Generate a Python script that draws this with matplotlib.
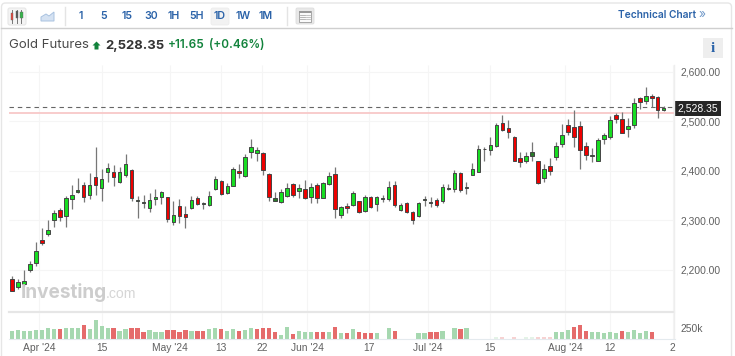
import matplotlib
matplotlib.use('Agg')
import matplotlib.pyplot as plt
import numpy as np
from matplotlib.patches import Rectangle, FancyBboxPatch, Polygon

# ohlc, (high, body top, body bottom, low)
highs = [2186, 2181, 2200, 2218, 2256, 2285, 2300, 2321, 2324, 2349, 2371, 2385, 2378, 2395, 2447, 2403,
         2415, 2411, 2407, 2434, 2403, 2348, 2350, 2354, 2362, 2358, 2346, 2339, 2342, 2329, 2348, 2348,
         2337, 2359, 2389, 2381, 2375, 2407, 2414, 2433, 2464, 2447, 2438, 2396, 2357, 2364, 2375, 2375,
         2373, 2381, 2375, 2376, 2377, 2397, 2407, 2329, 2335, 2358, 2339, 2350, 2349, 2348, 2350, 2380,
         2380, 2334, 2336, 2319, 2337, 2349, 2347, 2344, 2373, 2373, 2401, 2398, 2378, 2416, 2452, 2447,
         2468, 2496, 2512, 2502, 2470, 2437, 2437, 2458, 2420, 2413, 2425, 2459, 2495, 2504, 2522, 2500,
         2458, 2445, 2466, 2476, 2511, 2516, 2518, 2506, 2547, 2550, 2569, 2555, 2551, 2531]
tops = [2181, 2175, 2177, 2212, 2237, 2259, 2280, 2314, 2321, 2344, 2350, 2361, 2371, 2371, 2387, 2383,
        2406, 2398, 2398, 2413, 2402, 2341, 2337, 2341, 2346, 2356, 2346, 2310, 2329, 2312, 2341, 2344,
        2334, 2349, 2384, 2379, 2369, 2404, 2400, 2428, 2448, 2441, 2435, 2393, 2344, 2356, 2366, 2373,
        2366, 2364, 2368, 2371, 2375, 2389, 2394, 2326, 2329, 2354, 2338, 2347, 2347, 2346, 2344, 2367,
        2372, 2331, 2334, 2317, 2335, 2342, 2337, 2340, 2367, 2366, 2396, 2395, 2368, 2403, 2444, 2444,
        2452, 2492, 2496, 2487, 2469, 2426, 2429, 2438, 2420, 2403, 2410, 2451, 2472, 2493, 2489, 2490,
        2451, 2431, 2463, 2473, 2503, 2512, 2504, 2491, 2537, 2548, 2551, 2552, 2549, 2526]
bottoms = [2157, 2164, 2171, 2199, 2214, 2254, 2271, 2300, 2306, 2308, 2342, 2356, 2347, 2350, 2372, 2366,
           2397, 2387, 2377, 2392, 2345, 2339, 2334, 2325, 2342, 2346, 2302, 2297, 2308, 2306, 2325, 2333,
           2332, 2330, 2362, 2352, 2354, 2370, 2396, 2390, 2437, 2436, 2402, 2347, 2339, 2337, 2348, 2350,
           2358, 2344, 2346, 2345, 2345, 2373, 2323, 2310, 2325, 2331, 2317, 2318, 2327, 2332, 2342, 2342,
           2330, 2321, 2317, 2300, 2308, 2340, 2335, 2331, 2338, 2364, 2362, 2361, 2366, 2392, 2398, 2443,
           2442, 2450, 2483, 2479, 2420, 2418, 2420, 2430, 2375, 2385, 2400, 2427, 2454, 2479, 2468, 2442,
           2431, 2430, 2420, 2465, 2469, 2505, 2477, 2484, 2493, 2540, 2541, 2547, 2522, 2522]
lows = [2156, 2160, 2167, 2194, 2207, 2249, 2267, 2286, 2298, 2286, 2322, 2354, 2336, 2342, 2351, 2339,
        2378, 2370, 2375, 2387, 2338, 2305, 2325, 2317, 2331, 2333, 2296, 2291, 2294, 2284, 2322, 2330,
        2322, 2329, 2360, 2350, 2352, 2369, 2386, 2388, 2425, 2420, 2392, 2339, 2338, 2334, 2346, 2347,
        2344, 2342, 2335, 2334, 2344, 2371, 2305, 2304, 2315, 2329, 2314, 2316, 2325, 2319, 2337, 2339,
        2327, 2318, 2315, 2292, 2306, 2329, 2327, 2326, 2335, 2360, 2356, 2357, 2353, 2391, 2397, 2420,
        2431, 2449, 2481, 2467, 2419, 2408, 2415, 2420, 2374, 2378, 2391, 2422, 2449, 2472, 2449, 2403,
        2422, 2418, 2420, 2455, 2464, 2497, 2476, 2469, 2487, 2524, 2535, 2528, 2506, 2520]
red_candles = [0, 5, 8, 12, 14, 17, 20, 26, 28, 29, 31, 35, 38, 42, 43, 47, 49, 51, 54, 56, 58, 60,
               64, 66, 67, 71, 75, 82, 83, 84, 85, 88, 90, 93, 94, 95, 96, 101, 102, 105, 107, 108]
dark_candles = [11, 22, 32, 44, 70, 73, 87]

volumes = [183, 200, 183, 183, 217, 200, 250, 242, 225, 258, 258, 258, 325, 242, 450, 308,
           267, 267, 192, 242, 250, 250, 158, 200, 150, 150, 200, 200, 158, 200, 183, 192,
           192, 225, 258, 233, 183, 225, 183, 200, 258, 233, 250, 258, 158, 92, 283, 100,
           175, 158, 158, 158, 158, 158, 283, 142, 142, 225, 158, 125, 125, 142, 0, 250,
           192, 0, 0, 0, 125, 125, 150, 150, 183, 0, 267, 233, 250, 0, 0, 0,
           0, 25, 25, 0, 25, 0, 25, 25, 25, 25, 25, 150, 150, 200, 292, 333,
           183, 158, 158, 142, 158, 142, 183, 158, 200, 142, 183, 150, 0, 0]
red_volumes = [8, 12, 17, 20, 21, 22, 26, 27, 28, 29, 31, 32, 35, 38, 41, 42, 43, 44, 47, 51, 52, 54,
               56, 58, 59, 60, 64, 70, 71, 75, 82, 84, 88, 89, 90, 94, 95, 96, 102, 107]

tick_pos = [4.6, 15.05, 26.4, 35, 41.8, 49.4, 59.7, 69.5, 79.9, 92.5, 100, 110.5]
tick_labels = ["Apr '24", '15', "May '24", '13', '22', "Jun '24", '17', "Jul '24", '15', "Aug '24", '12', '2']
price_ticks = [2200, 2300, 2400, 2500, 2600]
last_price = 2528.35
prev_close = 2516.7

W, H = 735, 356
FONT = 'Inter'
AXIS_FONT = 'Liberation Sans'
GREEN = '#18dd22'
RED = '#ee0000'
VGREEN = '#a6d8b0'
VRED = '#e56b6b'
BLUE = '#2a62a8'
TXT = '#606060'


def axes_px(fig, x0, y0, x1, y1, **kw):
    return fig.add_axes([x0 / W, 1 - y1 / H, (x1 - x0) / W, (y1 - y0) / H], **kw)


def px(size):
    return size * 0.72


fig = plt.figure(figsize=(W / 100, H / 100), dpi=100)
plt.rcParams['font.family'] = [FONT, 'DejaVu Sans']

ax = axes_px(fig, 9, 65, 674.5, 312)
ax.set_xlim(-0.5, 110.8)
ax.set_ylim(2114, 2614)
idx = np.arange(len(highs))
ax.vlines(tick_pos, 2114, 2614, color='#f5f5f5', lw=0.8, zorder=0)
ax.hlines(price_ticks, -0.5, 110.8, color='#f5f5f5', lw=0.8, zorder=0)
ax.axhline(prev_close, color='#f8c8c8', lw=1.3, zorder=1)
ax.axhline(last_price, color='#666666', lw=0.8, dashes=(4, 3.5), zorder=1)

ax.vlines(idx, lows, highs, color='#777777', lw=0.9, zorder=2)
colors = ['#2a7a2a' if i in dark_candles else RED if i in red_candles else GREEN for i in idx]
ax.bar(idx, np.array(tops) - np.array(bottoms), width=0.58, bottom=bottoms, color=colors,
       edgecolor='#444444', lw=0.7, zorder=3)
for s in ax.spines.values():
    s.set_visible(False)
ax.set_xticks([])
ax.yaxis.tick_right()
ax.set_yticks(price_ticks)
ax.set_yticklabels(['{:,.2f}'.format(p) for p in price_ticks], fontsize=px(10.2), color=TXT, family=AXIS_FONT)
ax.tick_params(axis='y', length=0, pad=4)
ax.patch.set_alpha(0)

vol = axes_px(fig, 9, 313, 674.5, 338.5)
vol.set_xlim(-0.5, 110.8)
vol.set_ylim(0, 637)
vol.vlines(tick_pos, 0, 637, color='#f5f5f5', lw=0.8, zorder=0)
vcolors = [VRED if i in red_volumes else VGREEN for i in idx]
# the very small bars fade out in the reference
valphas = [0.3 if v < 50 else 1 for v in volumes]
bars = vol.bar(idx, volumes, width=0.72, color=vcolors, lw=0, zorder=2)
for b, a in zip(bars, valphas):
    b.set_alpha(a)
for s in vol.spines.values():
    s.set_visible(False)
vol.spines['bottom'].set_visible(True)
vol.spines['bottom'].set_color('#e4eaee')
vol.set_yticks([250])
vol.set_yticklabels(['250k'], fontsize=px(10.2), color=TXT, family=AXIS_FONT)
vol.yaxis.tick_right()
vol.tick_params(axis='y', length=0, pad=4)
vol.set_xticks(tick_pos)
vol.set_xticklabels(tick_labels, fontsize=px(10.2), color=TXT, family=AXIS_FONT)
vol.tick_params(axis='x', length=0, pad=3.5)
vol.patch.set_alpha(0)

# page furniture in pixel coordinates
ov = fig.add_axes([0, 0, 1, 1], zorder=5)
ov.set_xlim(0, W)
ov.set_ylim(H, 0)
ov.axis('off')
ov.patch.set_alpha(0)

ov.add_patch(FancyBboxPatch((1.5, 3), 730, 360, boxstyle='round,pad=0,rounding_size=4',
                            fc='none', ec='#e6e6e6', lw=1, clip_on=True))
ov.plot([1, 732], [28, 28], color='#cfcfcf', lw=1)
ov.plot([9, 674], [312, 312], color='#e6e6e6', lw=1.6)
ov.plot([674.5, 674.5], [65, 338], color='#eeeeee', lw=1)

# toolbar
ov.add_patch(FancyBboxPatch((8, 8), 18, 17, boxstyle='round,pad=0,rounding_size=2', fc='#f4f4f4', ec='#e6e6e6', lw=0.8))
for x, y0, y1, c in [(12, 13, 20, '#e8453c'), (17, 11, 18, '#555555'), (21.5, 12, 18, '#35b34a')]:
    ov.plot([x, x], [9.5, 23], color='#777777', lw=0.7)
    ov.add_patch(Rectangle((x - 1.4, y0), 2.8, y1 - y0, fc=c, ec='#666666', lw=0.3, zorder=3))
ov.add_patch(Polygon([(41, 21), (41, 17), (46, 14), (49, 16), (54, 12), (54, 21)], fc='#d5e2f2', ec='#a9c2e0', lw=0.7))
ov.plot([65, 65], [7, 25], color='#e4e4e4', lw=1)
ov.plot([287, 287], [7, 25], color='#e4e4e4', lw=1)
ov.add_patch(FancyBboxPatch((211, 8), 18, 17, boxstyle='round,pad=0,rounding_size=2', fc='#f2f2f2', ec='#ececec', lw=0.6))
for x, s in zip([81, 104, 127, 151, 174, 197, 220, 243, 266], ['1', '5', '15', '30', '1H', '5H', '1D', '1W', '1M']):
    ov.text(x, 16, s, fontsize=px(10.6), fontweight='semibold', color=BLUE, ha='center', va='center')
ov.add_patch(FancyBboxPatch((296, 8), 18, 16, boxstyle='round,pad=0,rounding_size=1.5', fc='#e8e8e8', ec='#dddddd', lw=0.6))
ov.add_patch(Rectangle((299, 10.5), 12, 11, fc='#fafafa', ec='#999999', lw=0.6))
ov.add_patch(Rectangle((299, 10.5), 12, 2.5, fc='#999999', lw=0))
for y in [15, 17, 19]:
    ov.plot([300.5, 305], [y, y], color='#aaaaaa', lw=0.6)
    ov.plot([306.5, 310], [y, y], color='#bbbbbb', lw=0.6)
ov.text(618, 15.5, 'Technical Chart', fontsize=px(10.2), fontweight='semibold', color=BLUE, ha='left', va='center')
ov.text(699, 15, '»', fontsize=px(12), color='#6f97c8', ha='left', va='center')

# header
ov.text(9, 45.5, 'Gold Futures', fontsize=px(13.2), color='#4a4a4a', ha='left', va='center')
ov.add_patch(Polygon([(96.5, 41.5), (100.5, 45.5), (98.5, 45.5), (98.5, 49.5), (94.5, 49.5), (94.5, 45.5), (92.5, 45.5)],
                     fc='#12833c', lw=0))
ov.text(105, 45.5, '2,528.35', fontsize=px(13), fontweight='bold', color='#333333', ha='left', va='center')
ov.text(168, 45, '+11.65', fontsize=px(11.8), fontweight='semibold', color='#12833c', ha='left', va='center')
ov.text(209, 45, '(+0.46%)', fontsize=px(11.7), fontweight='semibold', color='#12833c', ha='left', va='center')
ov.add_patch(Rectangle((703, 38), 20, 20, fc='#eeeeee', lw=0))
ov.text(713, 48, 'i', fontsize=px(15), fontweight='bold', family='Liberation Serif', color=BLUE, ha='center', va='center')

# last price flag
ov.add_patch(Rectangle((675, 101), 46, 14.5, fc='#262626', lw=0))
ov.text(698, 108.3, '2,528.35', fontsize=px(10.4), color='white', family=AXIS_FONT, ha='center', va='center')

# watermark
ov.text(21, 292, 'Investing', fontsize=px(19), fontweight='bold', color='#c8c8c8', ha='left', va='center', alpha=0.9)
ov.text(106, 294, '.com', fontsize=px(14), color='#d6d6d6', family=AXIS_FONT, ha='left', va='center')

fig.savefig('out.png', dpi=100)
